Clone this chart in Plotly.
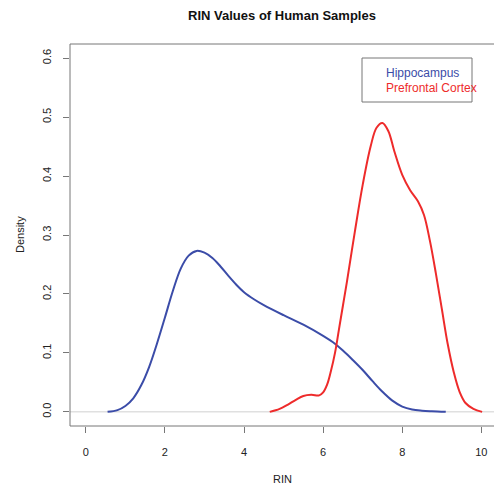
import plotly.graph_objects as go

# Hippocampus density curve
hip_x = [0.55, 0.8, 1.0, 1.2, 1.4, 1.6, 1.8, 2.0, 2.2, 2.4, 2.6, 2.8, 3.0, 3.2, 3.4, 3.6, 3.8,
         4.0, 4.25, 4.5, 5.0, 5.5, 6.0, 6.25, 6.5, 6.75, 7.0, 7.25, 7.5, 7.75, 8.0, 8.25, 8.5, 8.75, 9.1]
hip_y = [0.0, 0.003, 0.010, 0.023, 0.045, 0.076, 0.116, 0.160, 0.205, 0.243, 0.265, 0.273, 0.270,
         0.261, 0.247, 0.231, 0.216, 0.203, 0.191, 0.181, 0.164, 0.148, 0.129, 0.118, 0.104, 0.088,
         0.071, 0.052, 0.034, 0.019, 0.009, 0.004, 0.002, 0.001, 0.0]

# Prefrontal cortex density curve
pfc_x = [4.65, 4.9, 5.1, 5.3, 5.5, 5.7, 5.9, 6.0, 6.1, 6.2, 6.3, 6.4, 6.5, 6.6, 6.8, 7.0, 7.2, 7.35,
         7.5, 7.65, 7.8, 8.0, 8.2, 8.4, 8.55, 8.7, 8.85, 9.0, 9.15, 9.3, 9.45, 9.6, 9.8, 10.02]
pfc_y = [0.0, 0.005, 0.012, 0.020, 0.027, 0.029, 0.028, 0.033, 0.046, 0.07, 0.10, 0.14, 0.18, 0.22,
         0.305, 0.385, 0.45, 0.482, 0.490, 0.476, 0.442, 0.402, 0.376, 0.357, 0.334, 0.290, 0.235,
         0.175, 0.115, 0.068, 0.034, 0.015, 0.005, 0.0]

series_names = ["Hippocampus", "Prefrontal Cortex"]
series_colors = ["#3b4ca8", "#ee2b2b"]

x_ticks = [0, 2, 4, 6, 8, 10]
y_ticks = [0.0, 0.1, 0.2, 0.3, 0.4, 0.5, 0.6]
y_ticklabels = ["0.0", "0.1", "0.2", "0.3", "0.4", "0.5", "0.6"]

FONT = "Liberation Sans, Arial, sans-serif"

fig = go.Figure()
fig.add_trace(go.Scatter(x=[-0.4, 10.4], y=[0, 0], mode="lines",
                         line=dict(color="#d0d0d0", width=1), hoverinfo="skip", showlegend=False))
for xs, ys, name, col in [(hip_x, hip_y, series_names[0], series_colors[0]),
                          (pfc_x, pfc_y, series_names[1], series_colors[1])]:
    fig.add_trace(go.Scatter(x=xs, y=ys, mode="lines", name=name,
                             line=dict(color=col, width=2, shape="spline", smoothing=1.0),
                             showlegend=False))

fig.update_layout(
    width=494, height=492,
    margin=dict(l=70, r=0, t=44, b=66),
    paper_bgcolor="white", plot_bgcolor="white",
    font=dict(family=FONT, size=11, color="#222"),
    title=dict(text="<b>RIN Values of Human Samples</b>", x=0.5, xref="paper",
               y=1 - 15 / 492, yanchor="middle", font=dict(size=13, color="#111")),
    xaxis=dict(range=[-0.4, 10.32], tickvals=x_ticks, ticks="outside", ticklen=6,
               tickcolor="#777", showgrid=False, zeroline=False, showline=False,
               ticklabelstandoff=10, tickfont=dict(size=11)),
    yaxis=dict(range=[-0.024, 0.624], tickvals=y_ticks, ticktext=y_ticklabels,
               ticks="outside", ticklen=6, tickcolor="#777", showgrid=False,
               zeroline=False, showline=False, tickangle=-90, ticklabelstandoff=8,
               tickfont=dict(size=11)),
    shapes=[
        dict(type="rect", xref="paper", yref="paper", x0=0, y0=0, x1=1.02, y1=1,
             line=dict(color="#777", width=1)),
        dict(type="rect", xref="paper", yref="paper",
             x0=(362 - 70) / 424, x1=(472 - 70) / 424,
             y0=(426 - 102) / 382, y1=(426 - 58) / 382,
             line=dict(color="#777", width=1), fillcolor="white"),
    ],
    annotations=[
        dict(text="RIN", xref="paper", yref="paper", x=0.5, y=(426 - 479) / 382,
             showarrow=False, font=dict(size=11), yanchor="middle"),
        dict(text="Density", xref="paper", yref="paper", x=(20 - 70) / 424, y=0.5,
             showarrow=False, textangle=-90, font=dict(size=11), xanchor="center"),
        dict(text=series_names[0], xref="paper", yref="paper", x=(384 - 70) / 424,
             y=(426 - 73) / 382, xanchor="left", yanchor="middle", showarrow=False,
             font=dict(size=12, color=series_colors[0])),
        dict(text=series_names[1], xref="paper", yref="paper", x=(384 - 70) / 424,
             y=(426 - 88) / 382, xanchor="left", yanchor="middle", showarrow=False,
             font=dict(size=12, color=series_colors[1])),
    ],
)

fig.write_html("out.html")
